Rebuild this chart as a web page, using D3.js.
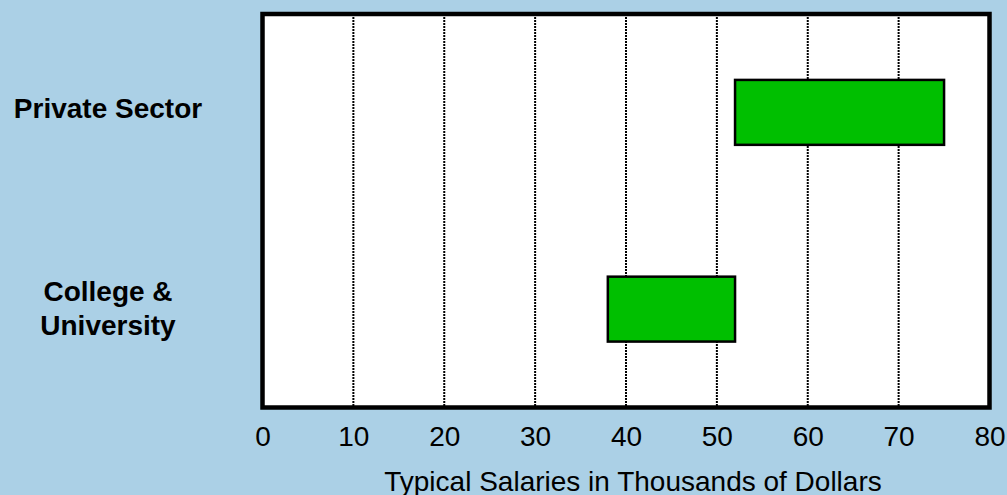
<!DOCTYPE html>
<html>
<head>
<meta charset="utf-8">
<script src="https://cdn.jsdelivr.net/npm/d3@7"></script>
<style>
  html, body { margin: 0; padding: 0; background: #abd0e6; }
  svg { display: block; font-family: "Liberation Sans", Arial, sans-serif; }
</style>
</head>
<body>
<div id="chart"></div>
<script>
// salary ranges, thousands of dollars
var categories = ["Private Sector", "College & University"];
var labelLines = [["Private Sector"], ["College &", "University"]];
var lowValues = [52, 38];
var highValues = [75, 52];
var tickValues = [0, 10, 20, 30, 40, 50, 60, 70, 80];
var gridValues = [10, 20, 30, 40, 50, 60, 70];
var xTitle = "Typical Salaries in Thousands of Dollars";

var width = 1007, height = 495;
var plot = { left: 262.5, right: 989.5, top: 14, bottom: 407.5 };

var svg = d3.select("#chart").append("svg")
    .attr("width", width)
    .attr("height", height);

svg.append("rect")
    .attr("width", width)
    .attr("height", height)
    .attr("fill", "#abd0e6");

var x = d3.scaleLinear()
    .domain([0, 80])
    .range([plot.left, plot.right]);

var y = d3.scaleBand()
    .domain(categories)
    .range([plot.top, plot.bottom])
    .paddingInner(0.67)
    .paddingOuter(0.335);

// plot background
svg.append("rect")
    .attr("x", plot.left)
    .attr("y", plot.top)
    .attr("width", plot.right - plot.left)
    .attr("height", plot.bottom - plot.top)
    .attr("fill", "#fff");

// dotted gridlines
svg.append("g").selectAll("line")
    .data(gridValues)
    .enter().append("line")
    .attr("x1", function(d) { return x(d); })
    .attr("x2", function(d) { return x(d); })
    .attr("y1", plot.top)
    .attr("y2", plot.bottom)
    .attr("stroke", "#000")
    .attr("stroke-width", 2)
    .attr("stroke-dasharray", "2,1");

// bars
var rows = categories.map(function(c, i) {
    return { cat: c, lo: lowValues[i], hi: highValues[i], lines: labelLines[i] };
});

svg.append("g").selectAll("rect")
    .data(rows)
    .enter().append("rect")
    .attr("x", function(d) { return x(d.lo); })
    .attr("y", function(d) { return y(d.cat); })
    .attr("width", function(d) { return x(d.hi) - x(d.lo); })
    .attr("height", y.bandwidth())
    .attr("fill", "#00bf00")
    .attr("stroke", "#000")
    .attr("stroke-width", 2.5);

// frame
svg.append("rect")
    .attr("x", plot.left)
    .attr("y", plot.top)
    .attr("width", plot.right - plot.left)
    .attr("height", plot.bottom - plot.top)
    .attr("fill", "none")
    .attr("stroke", "#000")
    .attr("stroke-width", 4.5);

// category labels
var labels = svg.append("g").selectAll("text")
    .data(rows)
    .enter().append("text")
    .attr("text-anchor", "middle")
    .attr("font-size", 28)
    .attr("font-weight", "bold")
    .attr("fill", "#000");

labels.each(function(d) {
    var cy = y(d.cat) + y.bandwidth() / 2;
    var first = cy + 6 - (d.lines.length - 1) * 14.5;
    d3.select(this).selectAll("tspan")
        .data(d.lines)
        .enter().append("tspan")
        .attr("x", 108)
        .attr("y", function(t, i) { return first + i * 34; })
        .text(function(t) { return t; });
});

// x axis
var xAxis = d3.axisBottom(x)
    .tickValues(tickValues)
    .tickSize(0)
    .tickPadding(18.5)
    .tickFormat(d3.format("d"));

var gx = svg.append("g")
    .attr("transform", "translate(0," + plot.bottom + ")")
    .call(xAxis);
gx.select(".domain").remove();
gx.selectAll(".tick text")
    .attr("font-size", 28)
    .attr("font-family", "Liberation Sans, Arial, sans-serif")
    .attr("fill", "#000");

svg.append("text")
    .attr("x", (plot.left + plot.right) / 2 + 7)
    .attr("y", 491)
    .attr("text-anchor", "middle")
    .attr("font-size", 28)
    .attr("fill", "#000")
    .text(xTitle);
</script>
</body>
</html>
